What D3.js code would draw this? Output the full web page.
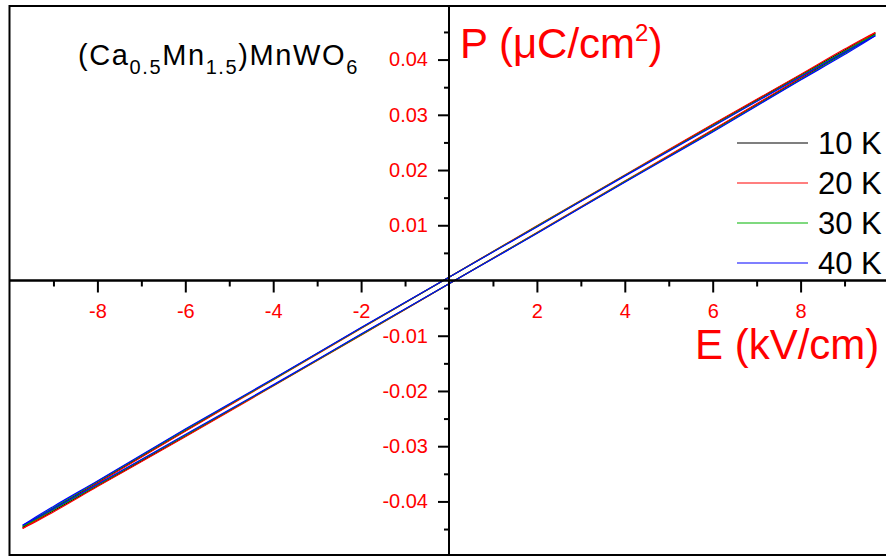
<!DOCTYPE html>
<html>
<head>
    <meta charset="UTF-8">
    <title>P-E loops</title>
    <script src="https://cdn.jsdelivr.net/npm/d3@7/dist/d3.min.js"></script>
    <style>
        body { margin: 0; background: #fff; }
        svg { display: block; font-family: "Liberation Sans", Arial, sans-serif; }
    </style>
</head>
<body>
<svg id="chart" width="886" height="556"></svg>
<script>
    // field values (kV/cm), shared by both branches of every loop
    var fieldE = [-9.7, -9.5, -9, -8, -6, -4, -2, 0, 2, 4, 6, 8, 9, 9.5, 9.7];

    // polarization (uC/cm2), upper branch (field going down) and lower branch (field going up)
    var p10Up   = [-0.0447, -0.0437, -0.0413, -0.0366, -0.0272, -0.0179, -0.0086, 0.0006, 0.0098, 0.0190, 0.0282, 0.0372, 0.0417, 0.0439, 0.0447];
    var p10Down = [-0.0447, -0.0439, -0.0417, -0.0372, -0.0282, -0.0190, -0.0098, -0.0006, 0.0086, 0.0179, 0.0272, 0.0366, 0.0413, 0.0437, 0.0447];
    var p20Up   = [-0.0449, -0.0439, -0.0415, -0.0367, -0.0273, -0.0180, -0.0087, 0.0006, 0.0099, 0.0191, 0.0283, 0.0373, 0.0419, 0.0441, 0.0449];
    var p20Down = [-0.0449, -0.0441, -0.0419, -0.0373, -0.0283, -0.0191, -0.0099, -0.0006, 0.0087, 0.0180, 0.0273, 0.0367, 0.0415, 0.0439, 0.0449];
    var p30Up   = [-0.0445, -0.0435, -0.0411, -0.0364, -0.0270, -0.0179, -0.0086, 0.0006, 0.0098, 0.0190, 0.0280, 0.0370, 0.0415, 0.0437, 0.0445];
    var p30Down = [-0.0445, -0.0437, -0.0415, -0.0370, -0.0280, -0.0190, -0.0098, -0.0006, 0.0086, 0.0179, 0.0270, 0.0364, 0.0411, 0.0435, 0.0445];
    var p40Up   = [-0.0443, -0.0433, -0.0409, -0.0363, -0.0269, -0.0178, -0.0085, 0.0006, 0.0097, 0.0189, 0.0279, 0.0369, 0.0413, 0.0435, 0.0443];
    var p40Down = [-0.0443, -0.0435, -0.0413, -0.0369, -0.0279, -0.0189, -0.0097, -0.0006, 0.0085, 0.0178, 0.0269, 0.0363, 0.0409, 0.0433, 0.0443];

    var seriesNames = ["10 K", "20 K", "30 K", "40 K"];
    var seriesColors = ["#000000", "#ff0000", "#00b400", "#0000ff"];
    var seriesUp = [p10Up, p20Up, p30Up, p40Up];
    var seriesDown = [p10Down, p20Down, p30Down, p40Down];

    var xTicks = [-8, -6, -4, -2, 2, 4, 6, 8];
    var xMinor = [-9, -7, -5, -3, -1, 1, 3, 5, 7, 9];
    var yTicks = [-0.04, -0.03, -0.02, -0.01, 0.01, 0.02, 0.03, 0.04];
    var yMinor = [-0.045, -0.035, -0.025, -0.015, -0.005, 0.005, 0.015, 0.025, 0.035, 0.045];

    var svg = d3.select("#chart");
    var boxLeft = 9.5, boxRight = 888.5, boxTop = 6, boxBottom = 555;

    var x = d3.scaleLinear().domain([-10, 10]).range([boxLeft, boxRight]);
    var y = d3.scaleLinear().domain([-0.0497, 0.0497]).range([boxBottom, boxTop]);

    // frame
    svg.append("rect")
        .attr("x", boxLeft).attr("y", boxTop)
        .attr("width", boxRight - boxLeft).attr("height", boxBottom - boxTop)
        .attr("fill", "none").attr("stroke", "#000").attr("stroke-width", 2);

    // loops
    var line = d3.line()
        .x(function (d) { return x(d[0]); })
        .y(function (d) { return y(d[1]); })
        .curve(d3.curveMonotoneX);

    seriesNames.forEach(function (name, i) {
        [seriesUp[i], seriesDown[i]].forEach(function (branch) {
            svg.append("path")
                .datum(fieldE.map(function (e, k) { return [e, branch[k]]; }))
                .attr("d", line)
                .attr("fill", "none")
                .attr("stroke", seriesColors[i])
                .attr("stroke-width", 1.2);
        });
    });

    // x axis through the origin, ticks down
    var xAxis = svg.append("g").attr("transform", "translate(0," + y(0) + ")");
    var xMajor = xAxis.append("g")
        .call(d3.axisBottom(x).tickValues(xTicks).tickSize(12).tickSizeOuter(0).tickPadding(11)
            .tickFormat(function (d) { return String(d); }));
    xAxis.append("g").call(d3.axisBottom(x).tickValues(xMinor).tickSize(6).tickSizeOuter(0).tickFormat(""));
    xAxis.selectAll(".domain").attr("stroke-width", 2).attr("d", "M" + boxLeft + ",0H" + boxRight);
    xAxis.selectAll("line").attr("stroke-width", 2);
    xMajor.selectAll("text").attr("fill", "#ff0000").attr("font-size", 20)
        .attr("font-family", "Liberation Sans, Arial, sans-serif");

    // y axis through the origin, ticks left
    var yAxis = svg.append("g").attr("transform", "translate(" + x(0) + ",0)");
    var yMajor = yAxis.append("g")
        .call(d3.axisLeft(y).tickValues(yTicks).tickSize(11).tickSizeOuter(0).tickPadding(10)
            .tickFormat(function (d) { return d.toFixed(2); }));
    yAxis.append("g").call(d3.axisLeft(y).tickValues(yMinor).tickSize(5).tickSizeOuter(0).tickFormat(""));
    yAxis.selectAll(".domain").attr("stroke-width", 2).attr("d", "M0," + boxTop + "V" + boxBottom);
    yAxis.selectAll("line").attr("stroke-width", 2);
    yMajor.selectAll("text").attr("fill", "#ff0000").attr("font-size", 20)
        .attr("font-family", "Liberation Sans, Arial, sans-serif");

    // compound name
    var title = svg.append("text").attr("x", 78).attr("y", 65)
        .attr("font-size", 29).attr("letter-spacing", 1.6).attr("fill", "#000");
    title.append("tspan").text("(Ca");
    title.append("tspan").attr("font-size", 20).attr("dy", 9).text("0.5");
    title.append("tspan").attr("dy", -9).text("Mn");
    title.append("tspan").attr("font-size", 20).attr("dy", 9).text("1.5");
    title.append("tspan").attr("dy", -9).text(")MnWO");
    title.append("tspan").attr("font-size", 20).attr("dy", 9).text("6");

    // axis titles
    var pLabel = svg.append("text").attr("x", 460).attr("y", 58)
        .attr("font-size", 42).attr("fill", "#ff0000");
    pLabel.append("tspan").text("P (\u03bcC/cm");
    pLabel.append("tspan").attr("font-size", 24).attr("dy", -17).text("2");
    pLabel.append("tspan").attr("dy", 17).text(")");

    svg.append("text").attr("x", 695).attr("y", 359)
        .attr("font-size", 42).attr("fill", "#ff0000")
        .text("E (kV/cm)");

    // legend
    var legend = svg.append("g");
    seriesNames.forEach(function (name, i) {
        var ly = 143 + i * 40;
        legend.append("line")
            .attr("x1", 737).attr("x2", 808).attr("y1", ly).attr("y2", ly)
            .attr("stroke", seriesColors[i]).attr("stroke-width", 1.2);
        legend.append("text")
            .attr("x", 818).attr("y", ly).attr("dy", "0.36em")
            .attr("font-size", 31).attr("fill", "#000")
            .text(name);
    });
</script>
</body>
</html>
